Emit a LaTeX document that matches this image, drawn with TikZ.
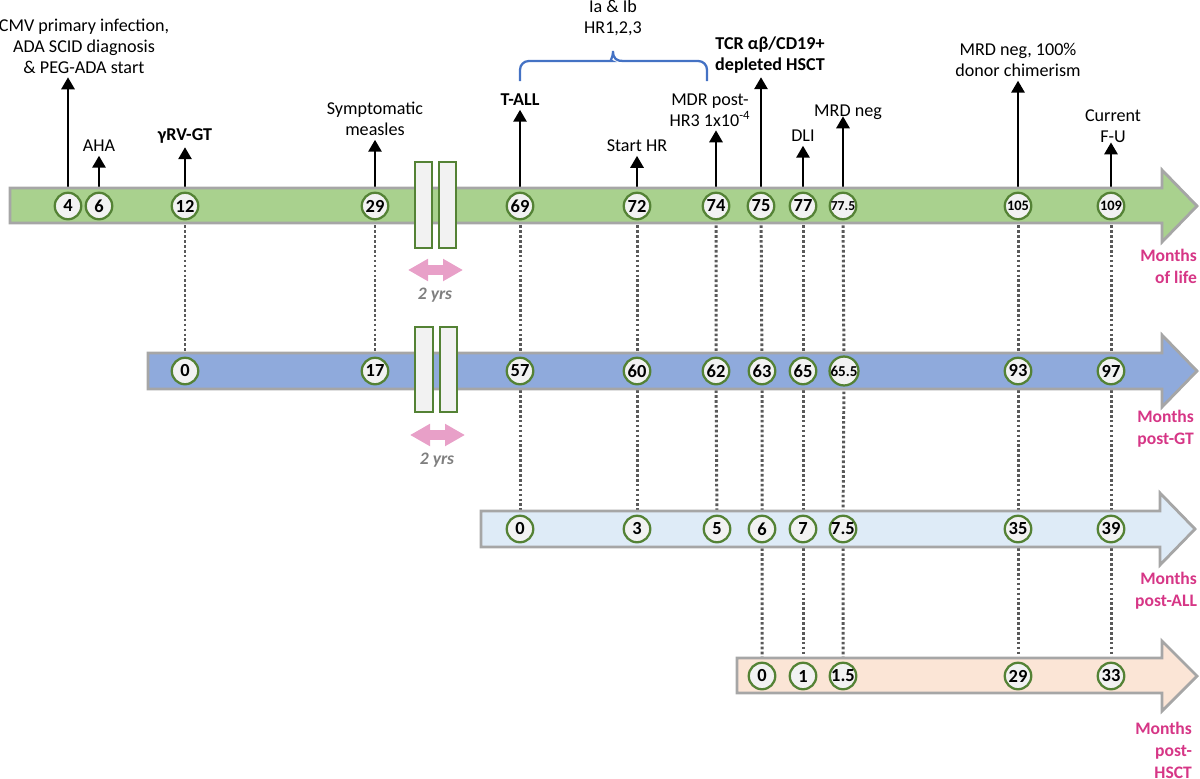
\documentclass[tikz,border=0pt]{standalone}
\usepackage{fontspec}
\setmainfont{Carlito}
\usetikzlibrary{arrows.meta}
\pgfdeclarelayer{back}
\pgfdeclarelayer{bands}
\pgfsetlayers{back,bands,main}

\definecolor{lifegreen}{HTML}{A9D18E}
\definecolor{gtblue}{HTML}{8FAADC}
\definecolor{allblue}{HTML}{DEEBF7}
\definecolor{hsctpeach}{HTML}{FBE5D6}
\definecolor{bandgray}{HTML}{A6A6A6}
\definecolor{circgreen}{HTML}{548235}
\definecolor{circfill}{HTML}{F2F2F2}
\definecolor{dotgray}{HTML}{595959}
\definecolor{labpink}{RGB}{214,54,134}
\definecolor{arrowpink}{RGB}{232,160,200}
\definecolor{bracecol}{HTML}{4472C4}
\definecolor{yrsgray}{HTML}{7F7F7F}

\begin{document}
\begin{tikzpicture}[x=0.02cm, y=-0.02cm,
    mo/.style={circle, draw=circgreen, line width=1.3pt, fill=circfill, minimum size=0.53cm, inner sep=0pt, font=\fontsize{10.5}{11}\selectfont\bfseries},
    mos/.style={mo, font=\fontsize{8.2}{9}\selectfont\bfseries},
    ev/.style={align=center, inner sep=2pt, font=\fontsize{10.3}{12}\selectfont},
    evb/.style={ev, font=\fontsize{10.3}{12}\selectfont\bfseries},
    evarrow/.style={line width=1.6pt, -{Triangle[length=0.24cm, width=0.26cm]}},
    dots/.style={dotgray, line width=1.7pt, dash pattern=on 1.5pt off 1.3pt},
    band/.style={draw=bandgray, line width=1.6pt},
    unit/.style={align=right, anchor=east, inner sep=1pt, text=labpink, font=\fontsize{10}{12.5}\selectfont\bfseries},
    gapbar/.style={draw=circgreen, line width=1.2pt, fill=circfill},
    yrs/.style={text=yrsgray, font=\fontsize{10}{11}\selectfont\bfseries\itshape},
    span/.style={arrowpink, line width=0.2cm, {Triangle[length=0.4cm, width=0.42cm]}-{Triangle[length=0.4cm, width=0.42cm]}}
    ]
    \useasboundingbox (0,0) rectangle (1200,778);

    % the four time axes
    \begin{pgfonlayer}{bands}
    \draw[band, fill=lifegreen] (10,188) -- (1162,188) -- (1162,170) -- (1197,206) -- (1162,242) -- (1162,223) -- (10,223) -- cycle;
    \draw[band, fill=gtblue] (148,353) -- (1162,353) -- (1162,335) -- (1197,371) -- (1162,407) -- (1162,389) -- (148,389) -- cycle;
    \draw[band, fill=allblue] (481,511) -- (1160,511) -- (1160,493) -- (1195,529) -- (1160,565) -- (1160,547) -- (481,547) -- cycle;
    \draw[band, fill=hsctpeach] (737,658) -- (1162,658) -- (1162,641) -- (1197,676) -- (1162,711) -- (1162,693) -- (737,693) -- cycle;
    \end{pgfonlayer}

    % months of life
    \node[mo] (L4) at (68,206) {4};
    \node[mo] (L6) at (99,206) {6};
    \node[mo] (L12) at (185,206) {12};
    \node[mo] (L29) at (375,206) {29};
    \node[mo] (L69) at (520,206) {69};
    \node[mo] (L72) at (637,206) {72};
    \node[mo] (L74) at (716,206) {74};
    \node[mo] (L75) at (761,206) {75};
    \node[mo] (L77) at (803,206) {77};
    \node[mos, font=\fontsize{7.8}{8}\selectfont\bfseries] (L77h) at (843,206) {77.5};
    \node[mos] (L105) at (1018,206) {105};
    \node[mos] (L109) at (1111,206) {109};

    % months post-GT
    \node[mo] (G0) at (185,371) {0};
    \node[mo] (G17) at (375,371) {17};
    \node[mo] (G57) at (520,371) {57};
    \node[mo] (G60) at (637,371) {60};
    \node[mo] (G62) at (716,371) {62};
    \node[mo] (G63) at (762,371) {63};
    \node[mo] (G65) at (803,371) {65};
    \node[mos, font=\fontsize{8.6}{9}\selectfont\bfseries] (G65h) at (844,371) {65.5};
    \node[mo] (G93) at (1018,371) {93};
    \node[mo] (G97) at (1111,371) {97};

    % months post-ALL
    \node[mo] (A0) at (520,529) {0};
    \node[mo] (A3) at (637,529) {3};
    \node[mo] (A5) at (717,529) {5};
    \node[mo] (A6) at (762,529) {6};
    \node[mo] (A7) at (803,529) {7};
    \node[mo] (A7h) at (843,529) {7.5};
    \node[mo] (A35) at (1018,529) {35};
    \node[mo] (A39) at (1111,529) {39};

    % months post-HSCT
    \node[mo] (H0) at (762,676) {0};
    \node[mo] (H1) at (803,676) {1};
    \node[mo] (H1h) at (843,676) {1.5};
    \node[mo] (H29) at (1018,676) {29};
    \node[mo] (H33) at (1111,676) {33};

    % events
    \node[ev] (CMV) at (84,46) {CMV primary infection,\\ADA SCID diagnosis\\\& PEG-ADA start};
    \node[ev] (AHA) at (99,146) {AHA};
    \node[evb] (GT) at (185,136) {γRV-GT};
    \node[ev] (MEAS) at (375,119) {Symptomatic\\measles};
    \node[evb] (TALL) at (520,100) {T-ALL};
    \node[ev] (HR) at (637,146) {Start HR};
    \node[ev] (MDR) at (710,110) {MDR post-\\HR3 1x10\textsuperscript{-4}};
    \node[evb] (TCR) at (770,55) {TCR αβ/CD19+\\depleted HSCT};
    \node[ev] (DLI) at (803,136) {DLI};
    \node[ev] (MRD) at (848,112) {MRD neg};
    \node[ev] (CHIM) at (1018,60) {MRD neg, 100\%\\donor chimerism};
    \node[ev] (FU) at (1113,126) {Current\\F-U};
    \node[ev] (CHEMO) at (613,18) {Ia \& Ib\\HR1,2,3};

    \draw[bracecol, line width=1.3pt]
    (520,81) [rounded corners=5pt] -- (520,61) -- (603,61) [sharp corners]
    .. controls (609,61) and (613,59) .. (613,51)
    .. controls (613,59) and (617,61) .. (623,61) [rounded corners=5pt] -- (707,61) -- (707,81);

    % breaks in the time scale
    \draw[gapbar] (415,162) rectangle (432,248);
    \draw[gapbar] (439,162) rectangle (456,248);
    \draw[gapbar] (415,327) rectangle (433,412);
    \draw[gapbar] (440,327) rectangle (457,412);
    \draw[span] (408,270) -- (463,270);
    \node[yrs] (Y1) at (435,295) {2 yrs};
    \draw[span] (410,435) -- (465,435);
    \node[yrs] (Y2) at (437,460) {2 yrs};

    \node[unit] (U1) at (1199,266) {Months\\of life};
    \node[unit] (U2) at (1196,429) {Months\\post-GT};
    \node[unit] (U3) at (1199,591) {Months\\post-ALL};
    \node[unit] (U4) at (1194,750) {Months\\post-\\HSCT};

    \begin{pgfonlayer}{back}
    \draw[evarrow] (L4) -- (L4 |- CMV.south);
    \draw[evarrow] (L6) -- (L6 |- AHA.south);
    \draw[evarrow] (L12) -- (L12 |- GT.south);
    \draw[evarrow] (L29) -- (L29 |- MEAS.south);
    \draw[evarrow] (L69) -- (L69 |- TALL.south);
    \draw[evarrow] (L72) -- (L72 |- HR.south);
    \draw[evarrow] (L74) -- (L74 |- MDR.south);
    \draw[evarrow] (L75) -- (L75 |- TCR.south);
    \draw[evarrow] (L77) -- (L77 |- DLI.south);
    \draw[evarrow] (L77h) -- (L77h |- MRD.base);
    \draw[evarrow] (L105) -- (L105 |- CHIM.south);
    \draw[evarrow] (L109) -- (L109 |- FU.base);

    \draw[dots] (L12) -- (G0);
    \draw[dots] (L29) -- (G17);
    \draw[dots] (L69) -- (G57) -- (A0);
    \draw[dots] (L72) -- (G60) -- (A3);
    \draw[dots] (L74) -- (G62) -- (A5);
    \draw[dots] (L75) -- (G63) -- (A6) -- (H0);
    \draw[dots] (L77) -- (G65) -- (A7) -- (H1);
    \draw[dots] (L77h) -- (G65h) -- (A7h) -- (H1h);
    \draw[dots] (L105) -- (G93) -- (A35) -- (H29);
    \draw[dots] (L109) -- (G97) -- (A39) -- (H33);
    \end{pgfonlayer}

\end{tikzpicture}
\end{document}
